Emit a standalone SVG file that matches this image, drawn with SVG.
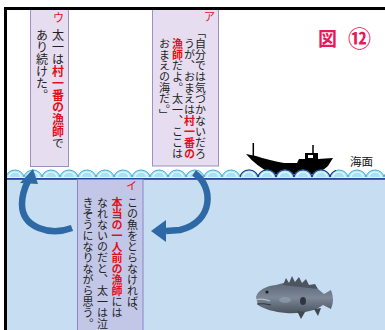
<svg xmlns="http://www.w3.org/2000/svg" width="385" height="330" viewBox="0 0 385 330">
  <defs>
    <style>
      .vt{font-family:"Noto Sans CJK JP","Noto Sans CJK SC",sans-serif;writing-mode:vertical-rl;fill:#222;}
      .r{fill:#e3101c;font-weight:bold}
      .lbl{font-family:"Noto Sans CJK JP","Noto Sans CJK SC",sans-serif;fill:#e3101c;font-size:11px}
      .box1{fill:#e6ddf0;stroke:#9b8fc4;stroke-width:1}
      .box2{fill:#c2c7e7;stroke:#8a86c6;stroke-width:1}
      .arr{fill:none;stroke:#2e69a6;stroke-width:6.5}
      .head{fill:#2e69a6}
      .ttl{font-family:"Noto Sans CJK JP","Noto Sans CJK SC",sans-serif;fill:#e6195a;font-weight:bold}
    </style>
    <pattern id="wave" patternUnits="userSpaceOnUse" x="6" y="168" width="18" height="12">
      <path d="M0,10 A9,8 0 0 1 18,10 Z" fill="#a9e3f3" stroke="#43aed6" stroke-width="1"/>
      <path d="M3,9 A6,5 0 0 1 15,9" fill="none" stroke="#e8fbff" stroke-width="1.2"/>
    </pattern>
    <pattern id="waveD" patternUnits="userSpaceOnUse" x="6" y="168" width="18" height="12">
      <path d="M0,10 A9,8 0 0 1 18,10 Z" fill="#a9e3f3" stroke="#1c3a88" stroke-width="1.2"/>
      <path d="M3,9 A6,5 0 0 1 15,9" fill="none" stroke="#e8fbff" stroke-width="1.2"/>
    </pattern>
    <linearGradient id="fishBody" x1="0" y1="0" x2="0" y2="1">
      <stop offset="0" stop-color="#5d6675"/>
      <stop offset="0.5" stop-color="#7c8797"/>
      <stop offset="1" stop-color="#4a525e"/>
    </linearGradient>
  </defs>

  <!-- background: air and sea -->
  <rect x="0" y="0" width="385" height="330" fill="#ffffff"/>
  <rect x="6" y="178" width="379" height="152" fill="#c7ddf1"/>

  <!-- fishing boat -->
  <g id="boat" fill="#000">
    <path d="M246,154 L256,156 Q268,160 284,163 L297,163 L299,159 L305,159 L305,153 L318,153 L318,159 L333,158 L328,166 Q322,172 312,174 L272,174 Q256,166 246,154 Z"/>
    <rect x="308" y="155" width="5" height="3" fill="#fff"/>
    <line x1="253.3" y1="143" x2="253.3" y2="157" stroke="#000" stroke-width="1.5"/>
    <line x1="313" y1="145" x2="313" y2="154" stroke="#000" stroke-width="1.5"/>
  </g>

  <!-- sea surface -->
  <g id="sea-surface">
    <rect x="6" y="168" width="379" height="10" fill="url(#wave)"/>
    <rect x="240" y="168" width="96" height="10" fill="url(#waveD)"/>
    <rect x="6" y="177.2" width="379" height="0.8" fill="#ffffff"/>
    <rect x="6" y="178" width="379" height="1.8" fill="#2c44a0"/>
  </g>

  <g id="sea-label">
    <text x="350" y="166" font-family="'Noto Sans CJK JP','Noto Sans CJK SC',sans-serif" font-size="11.5" fill="#111">海面</text>
  </g>

  <g id="title">
    <text class="ttl" x="318" y="46" font-size="19">図</text>
    <text class="ttl" x="348" y="47" font-size="23" font-weight="normal">⑫</text>
  </g>

  <!-- card ウ -->
  <g id="card-u">
    <rect class="box1" x="30.5" y="9.5" width="38" height="157"/>
    <text class="lbl" x="53" y="22">ウ</text>
    <text class="vt" x="58" y="29" font-size="12">太一は<tspan class="r">村一番の漁師</tspan>で</text>
    <text class="vt" x="42" y="29" font-size="12">あり続けた。</text>
  </g>

  <!-- card ア -->
  <g id="card-a">
    <rect class="box1" x="152.5" y="9.5" width="66" height="156.5"/>
    <text class="lbl" x="204" y="21">ア</text>
    <text class="vt" x="200.5" y="27" font-size="11">「自分では気づかないだろ</text>
    <text class="vt" x="189.5" y="38" font-size="11">うが、おまえは<tspan class="r">村一番の</tspan></text>
    <text class="vt" x="177.5" y="38" font-size="11"><tspan class="r">漁師</tspan>だよ。太一、ここは</text>
    <text class="vt" x="164.5" y="38" font-size="11">おまえの海だ。」</text>
  </g>

  <!-- card イ -->
  <g id="card-i">
    <rect class="box2" x="77.5" y="179.5" width="65.5" height="155"/>
    <text class="lbl" x="126" y="190">イ</text>
    <text class="vt" x="132.5" y="197" font-size="11">この魚をとらなければ、</text>
    <text class="vt" x="117" y="197" font-size="11"><tspan class="r">本当の一人前の漁師</tspan>には</text>
    <text class="vt" x="102.5" y="197" font-size="11">なれないのだと、太一は泣</text>
    <text class="vt" x="88" y="197" font-size="11">きそうになりながら思う。</text>
  </g>

  <!-- curved arrows -->
  <g id="connectors">
    <path class="arr" d="M72,228 C50,236 22,228 22,204 C22,194 25,187 28,181"/>
    <polygon class="head" points="33,169 20,183 38,184"/>
    <path class="arr" d="M194,173 C214,186 214,222 180,230 L166,231"/>
    <polygon class="head" points="151,231 166,220 166,242"/>
  </g>

  <!-- grouper -->
  <g id="fish">
    <path d="M256,297 C258,290 266,286 276,285 C290,280 306,283 318,289 L324,294 L331,290 Q335,300 331,309 L323,305 C316,311 300,314 286,313 C274,312 264,309 258,305 Z" fill="url(#fishBody)"/>
    <path d="M283,285 L286,278 L289,283 L292,276 L295,282 L299,277 L302,283 L306,279 L309,285 L315,284 L318,289 Z" fill="#4c5460"/>
    <path d="M297,311 L301,319 L305,312 Z" fill="#3e4650"/>
    <path d="M314,309 L318,316 L321,308 Z" fill="#3e4650"/>
    <path d="M256,300 Q262,298 270,301" fill="none" stroke="#b8c0cc" stroke-width="1.2"/>
    <path d="M257,304 Q264,303 271,305" fill="none" stroke="#2e343c" stroke-width="1"/>
    <circle cx="267" cy="292" r="1.6" fill="#1c2026"/>
    <ellipse cx="303" cy="301" rx="3" ry="4" fill="#2f3640"/>
    <ellipse cx="285" cy="300" rx="6" ry="3" fill="#98a3b2" opacity="0.6"/>
  </g>

  <!-- frame -->
  <path d="M385,8.5 H5.5 V330" fill="none" stroke="#000" stroke-width="3"/>
</svg>
